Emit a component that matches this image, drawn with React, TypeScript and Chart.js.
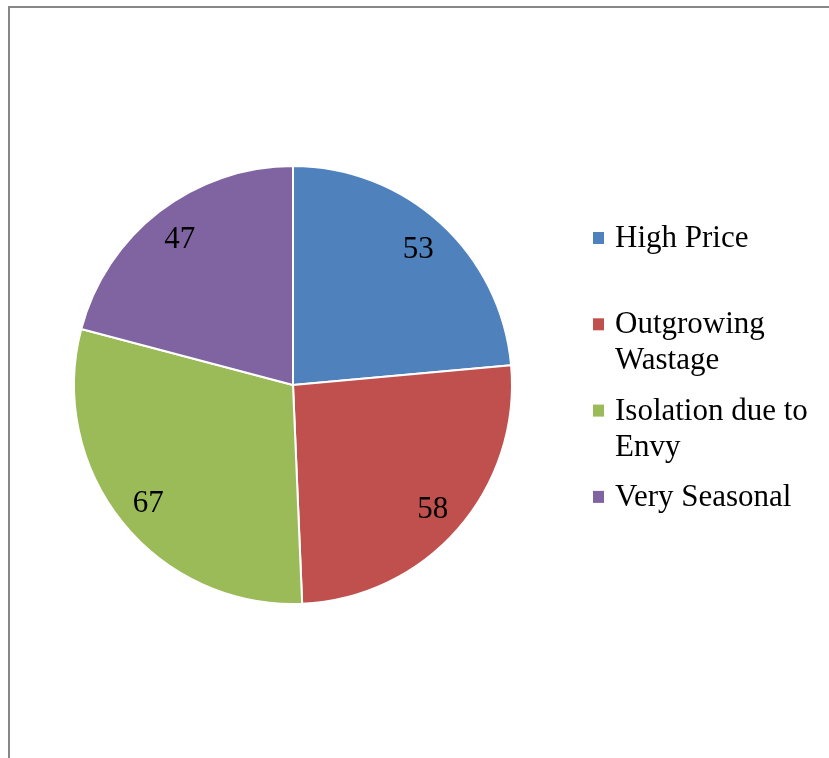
import React, { useEffect, useRef } from "react";
import { Chart, registerables } from "chart.js";

Chart.register(...registerables);

const categories = ["High Price", "Outgrowing Wastage", "Isolation due to Envy", "Very Seasonal"];
const values = [53, 58, 67, 47];
const colors = ["#4F81BD", "#C0504D", "#9BBB59", "#8064A2"];

const W = 829;
const H = 758;

const framePlugin = {
  id: "frame",
  beforeDraw(chart: any) {
    const ctx = chart.ctx;
    ctx.save();
    ctx.fillStyle = "#ffffff";
    ctx.fillRect(0, 0, W, H);
    ctx.fillStyle = "#878787";
    ctx.fillRect(8, 6, W - 8, 2);
    ctx.fillRect(8, 6, 2, H - 6);
    ctx.restore();
  },
};

const labelsPlugin = {
  id: "sliceLabels",
  afterDatasetsDraw(chart: any) {
    const ctx = chart.ctx;
    const meta = chart.getDatasetMeta(0);
    const fs = 31;
    ctx.save();
    ctx.font = fs + "px 'Liberation Serif', 'Times New Roman', serif";
    ctx.fillStyle = "#000000";
    ctx.textAlign = "center";
    ctx.textBaseline = "alphabetic";
    meta.data.forEach((arc: any, i: number) => {
      const p = arc.getProps(["x", "y", "startAngle", "endAngle", "outerRadius"], true);
      const mid = (p.startAngle + p.endAngle) / 2;
      const r = p.outerRadius * 0.848;
      const cx = p.x + Math.cos(mid) * r;
      const cy = p.y + Math.sin(mid) * r;
      ctx.fillText(String(values[i]), cx, cy + fs * 0.338);
    });
    ctx.restore();
  },
};

const legendPlugin = {
  id: "customLegend",
  afterDraw(chart: any) {
    const ctx = chart.ctx;
    ctx.save();
    ctx.font = "31px 'Liberation Serif', 'Times New Roman', serif";
    ctx.textAlign = "left";
    ctx.textBaseline = "alphabetic";
    const textX = 615;
    const maxW = 210;
    const firstBaseline = 247;
    const entryGap = 86.3;
    const lineH = 36;
    categories.forEach((label, i) => {
      const words = label.split(" ");
      const lines: string[] = [];
      let cur = "";
      words.forEach((w) => {
        const test = cur ? cur + " " + w : w;
        if (ctx.measureText(test).width > maxW && cur) {
          lines.push(cur);
          cur = w;
        } else {
          cur = test;
        }
      });
      if (cur) lines.push(cur);
      const base = firstBaseline + i * entryGap;
      ctx.fillStyle = colors[i];
      ctx.fillRect(593, base - 15, 11, 12);
      ctx.fillStyle = "#000000";
      lines.forEach((ln, j) => ctx.fillText(ln, textX, base + j * lineH));
    });
    ctx.restore();
  },
};

export default function App() {
  const ref = useRef<HTMLCanvasElement | null>(null);
  useEffect(() => {
    if (!ref.current) return;
    const chart = new Chart(ref.current, {
      type: "pie",
      data: {
        labels: categories,
        datasets: [
          {
            data: values,
            backgroundColor: colors,
            borderColor: "#ffffff",
            borderWidth: 2,
          },
        ],
      },
      options: {
        responsive: false,
        animation: false,
        devicePixelRatio: 1,
        layout: { padding: { left: 73, right: 316, top: 165, bottom: 153 } },
        plugins: {
          legend: { display: false },
          tooltip: { enabled: false },
        },
      },
      plugins: [framePlugin, labelsPlugin, legendPlugin],
    });
    return () => chart.destroy();
  }, []);
  return (
    <div style={{ position: "absolute", left: 0, top: 0, width: W, height: H }}>
      <canvas ref={ref} width={W} height={H} style={{ width: W, height: H, display: "block" }} />
    </div>
  );
}
